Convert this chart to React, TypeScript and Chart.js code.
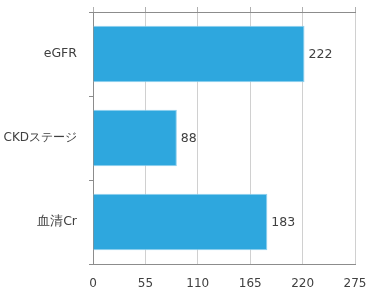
import React, { useEffect, useRef } from "react";
import { Chart, registerables } from "chart.js";

Chart.register(...registerables);

const categories = ["eGFR", "CKDステージ", "血清Cr"];
const values = [222, 88, 183];
const xTicks = [0, 55, 110, 165, 220, 275];

const FONT = "'DejaVu Sans', Verdana, sans-serif";

const valueLabels = {
  id: "valueLabels",
  afterDatasetsDraw(chart: any) {
    const ctx = chart.ctx;
    const meta = chart.getDatasetMeta(0);
    ctx.save();
    ctx.font = `12.5px ${FONT}`;
    ctx.fillStyle = "#404040";
    ctx.textAlign = "left";
    ctx.textBaseline = "middle";
    meta.data.forEach((bar: any, i: number) => {
      ctx.fillText(String(values[i]), bar.x + 4, bar.y + 1);
    });
    ctx.restore();
  },
};

function zeroPad(s: any) {
  s.paddingTop = 0;
  s.paddingBottom = 0;
  s.paddingLeft = 0;
  s.paddingRight = 0;
}

export default function App() {
  const ref = useRef<HTMLCanvasElement>(null);
  useEffect(() => {
    if (!ref.current) return;
    const chart = new Chart(ref.current, {
      type: "bar",
      data: {
        labels: categories,
        datasets: [
          {
            data: values,
            backgroundColor: "#2ea7de",
            borderColor: "#8fd0ee",
            borderWidth: 1,
            barPercentage: 0.67,
            categoryPercentage: 1,
          },
        ],
      },
      options: {
        indexAxis: "y",
        animation: false,
        responsive: false,
        maintainAspectRatio: false,
        layout: { padding: { left: 0, right: 13, top: 0, bottom: 0 } },
        plugins: { legend: { display: false }, tooltip: { enabled: false } },
        scales: {
          x: {
            position: "bottom",
            min: 0,
            max: 275,
            afterBuildTicks: (s: any) => {
              s.ticks = xTicks.map((v) => ({ value: v }));
            },
            afterFit: (s: any) => {
              s.height = 23;
              zeroPad(s);
            },
            ticks: {
              color: "#404040",
              font: { family: FONT, size: 12 },
              padding: 13,
              maxRotation: 0,
              autoSkip: false,
            },
            grid: { color: "#d0d0d0", drawTicks: false, lineWidth: 1 },
            border: { display: true, color: "#8c8c8c" },
          },
          x2: {
            position: "top",
            min: 0,
            max: 275,
            afterBuildTicks: (s: any) => {
              s.ticks = xTicks.map((v) => ({ value: v }));
            },
            afterFit: (s: any) => {
              s.height = 12;
              zeroPad(s);
            },
            ticks: { display: false },
            grid: { color: "#b0b0b0", drawOnChartArea: false, drawTicks: true, tickLength: 5 },
            border: { display: true, color: "#8c8c8c" },
          },
          y: {
            afterFit: (s: any) => {
              s.width = 93;
              zeroPad(s);
            },
            ticks: {
              color: "#404040",
              font: (c: any) => ({ family: FONT, size: c.index === 1 ? 12 : 12.5 }),
              padding: 12,
            },
            grid: { drawOnChartArea: false, drawTicks: true, tickLength: 4, color: "#8c8c8c", offset: true },
            border: { display: true, color: "#8c8c8c" },
          },
        },
      },
      plugins: [valueLabels],
    });
    return () => chart.destroy();
  }, []);
  return (
    <div style={{ position: "fixed", left: 0, top: 0, width: 368, height: 287, background: "#fff" }}>
      <canvas ref={ref} width={368} height={287} style={{ width: 368, height: 287 }} />
    </div>
  );
}
